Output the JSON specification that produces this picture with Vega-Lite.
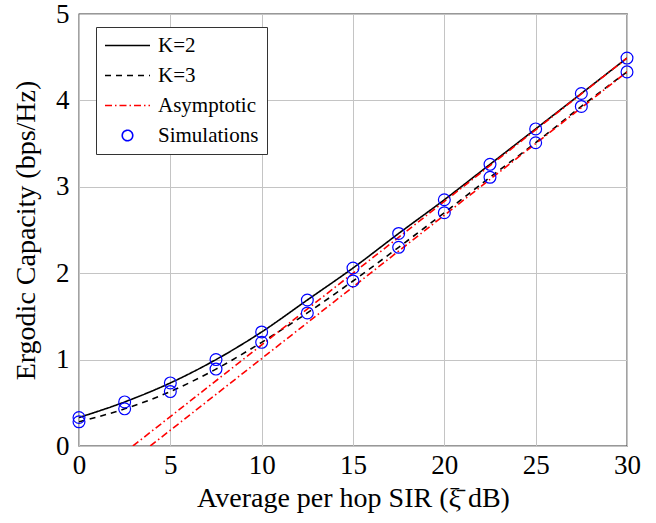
{
  "$schema": "https://vega.github.io/schema/vega-lite/v6.json",
  "width": 548,
  "height": 432,
  "autosize": {"type": "none"},
  "padding": {"left": 79, "top": 14, "right": 29, "bottom": 77},
  "background": "white",
  "config": {
    "font": "Liberation Serif",
    "view": {"stroke": "#333333", "strokeWidth": 1.3},
    "axis": {
      "labelFont": "Liberation Serif",
      "titleFont": "Liberation Serif",
      "labelFontSize": 27,
      "titleFontSize": 28,
      "labelColor": "black",
      "titleColor": "black",
      "titleFontWeight": "normal",
      "gridColor": "#c4c4c4",
      "gridWidth": 1,
      "domain": false,
      "ticks": false
    },
    "legend": {
      "labelFont": "Liberation Serif",
      "labelFontSize": 21,
      "labelColor": "black"
    }
  },
  "datasets": {
    "curves": [
      {"x": 0, "y": 0.33, "series": "K=2", "line": "K2"},
      {"x": 2.5, "y": 0.51, "series": "K=2", "line": "K2"},
      {"x": 5, "y": 0.73, "series": "K=2", "line": "K2"},
      {"x": 7.5, "y": 1.0, "series": "K=2", "line": "K2"},
      {"x": 10, "y": 1.32, "series": "K=2", "line": "K2"},
      {"x": 12.5, "y": 1.69, "series": "K=2", "line": "K2"},
      {"x": 15, "y": 2.06, "series": "K=2", "line": "K2"},
      {"x": 17.5, "y": 2.46, "series": "K=2", "line": "K2"},
      {"x": 20, "y": 2.85, "series": "K=2", "line": "K2"},
      {"x": 22.5, "y": 3.26, "series": "K=2", "line": "K2"},
      {"x": 25, "y": 3.67, "series": "K=2", "line": "K2"},
      {"x": 27.5, "y": 4.08, "series": "K=2", "line": "K2"},
      {"x": 30, "y": 4.49, "series": "K=2", "line": "K2"},
      {"x": 0, "y": 0.28, "series": "K=3", "line": "K3"},
      {"x": 2.5, "y": 0.43, "series": "K=3", "line": "K3"},
      {"x": 5, "y": 0.63, "series": "K=3", "line": "K3"},
      {"x": 7.5, "y": 0.89, "series": "K=3", "line": "K3"},
      {"x": 10, "y": 1.2, "series": "K=3", "line": "K3"},
      {"x": 12.5, "y": 1.54, "series": "K=3", "line": "K3"},
      {"x": 15, "y": 1.91, "series": "K=3", "line": "K3"},
      {"x": 17.5, "y": 2.3, "series": "K=3", "line": "K3"},
      {"x": 20, "y": 2.7, "series": "K=3", "line": "K3"},
      {"x": 22.5, "y": 3.11, "series": "K=3", "line": "K3"},
      {"x": 25, "y": 3.51, "series": "K=3", "line": "K3"},
      {"x": 27.5, "y": 3.93, "series": "K=3", "line": "K3"},
      {"x": 30, "y": 4.33, "series": "K=3", "line": "K3"},
      {"x": 2.95, "y": 0, "series": "Asymptotic", "line": "A2"},
      {"x": 30, "y": 4.49, "series": "Asymptotic", "line": "A2"},
      {"x": 3.9, "y": 0, "series": "Asymptotic", "line": "A3"},
      {"x": 30, "y": 4.33, "series": "Asymptotic", "line": "A3"}
    ],
    "sims": [
      {"x": 0, "y": 0.33, "series": "Simulations"},
      {"x": 2.5, "y": 0.51, "series": "Simulations"},
      {"x": 5, "y": 0.73, "series": "Simulations"},
      {"x": 7.5, "y": 1.0, "series": "Simulations"},
      {"x": 10, "y": 1.32, "series": "Simulations"},
      {"x": 12.5, "y": 1.69, "series": "Simulations"},
      {"x": 15, "y": 2.06, "series": "Simulations"},
      {"x": 17.5, "y": 2.46, "series": "Simulations"},
      {"x": 20, "y": 2.85, "series": "Simulations"},
      {"x": 22.5, "y": 3.26, "series": "Simulations"},
      {"x": 25, "y": 3.67, "series": "Simulations"},
      {"x": 27.5, "y": 4.08, "series": "Simulations"},
      {"x": 30, "y": 4.49, "series": "Simulations"},
      {"x": 0, "y": 0.28, "series": "Simulations"},
      {"x": 2.5, "y": 0.43, "series": "Simulations"},
      {"x": 5, "y": 0.63, "series": "Simulations"},
      {"x": 7.5, "y": 0.89, "series": "Simulations"},
      {"x": 10, "y": 1.2, "series": "Simulations"},
      {"x": 12.5, "y": 1.54, "series": "Simulations"},
      {"x": 15, "y": 1.91, "series": "Simulations"},
      {"x": 17.5, "y": 2.3, "series": "Simulations"},
      {"x": 20, "y": 2.7, "series": "Simulations"},
      {"x": 22.5, "y": 3.11, "series": "Simulations"},
      {"x": 25, "y": 3.51, "series": "Simulations"},
      {"x": 27.5, "y": 3.93, "series": "Simulations"},
      {"x": 30, "y": 4.33, "series": "Simulations"}
    ]
  },
  "encoding": {
    "x": {
      "field": "x", "type": "quantitative",
      "scale": {"domain": [0, 30], "nice": false, "zero": false},
      "axis": {"values": [0, 5, 10, 15, 20, 25, 30], "title": "Average per hop SIR (ξ̄ dB)", "labelPadding": 6, "titlePadding": 6, "labelFlush": false}
    },
    "y": {
      "field": "y", "type": "quantitative",
      "scale": {"domain": [0, 5], "nice": false},
      "axis": {"values": [0, 1, 2, 3, 4, 5], "title": "Ergodic Capacity (bps/Hz)", "labelPadding": 10, "titlePadding": 15, "labelFlush": false}
    },
    "color": {
      "field": "series", "type": "nominal",
      "scale": {"domain": ["K=2", "K=3", "Asymptotic", "Simulations"], "range": ["black", "black", "red", "blue"]},
      "legend": {
        "title": null,
        "orient": "none",
        "legendX": 17,
        "legendY": 13,
        "padding": 8,
        "strokeColor": "#333333",
        "fillColor": "white",
        "rowPadding": 8,
        "symbolType": "M-3,0H3",
        "symbolSize": 225,
        "symbolStrokeWidth": 1.6,
        "symbolOpacity": 1,
        "symbolOffset": 13,
        "labelOffset": 20,
        "encode": {
          "symbols": {
            "update": {
              "shape": {"signal": "datum.value === 'Simulations' ? 'circle' : 'M-3,0H3'"},
              "size": {"signal": "datum.value === 'Simulations' ? 110 : 225"},
              "fill": {"value": "transparent"},
              "opacity": {"value": 1}
            }
          }
        }
      }
    }
  },
  "layer": [
    {
      "data": {"name": "curves"},
      "mark": {"type": "line", "strokeWidth": 1.6, "interpolate": "monotone", "clip": true},
      "encoding": {
        "detail": {"field": "line"},
        "strokeDash": {
          "field": "series", "type": "nominal",
          "scale": {"domain": ["K=2", "K=3", "Asymptotic", "Simulations"], "range": [[1, 0], [6, 5], [7, 3, 1.5, 3], [1, 0]]},
          "legend": null
        }
      }
    },
    {
      "data": {"name": "sims"},
      "mark": {"type": "point", "shape": "circle", "filled": false, "size": 140, "strokeWidth": 1.2, "opacity": 1, "clip": false}
    }
  ]
}
